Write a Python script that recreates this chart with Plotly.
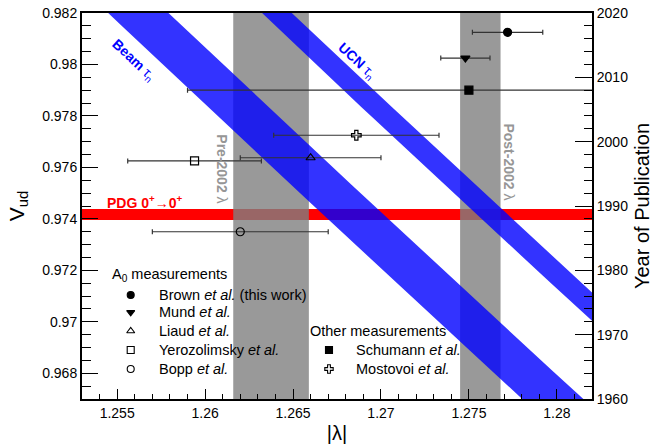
import numpy as np
import plotly.graph_objects as go

# ---------------- data ----------------
a0_names = ["Brown <i>et al.</i> (this work)", "Mund <i>et al.</i>", "Liaud <i>et al.</i>",
            "Yerozolimsky <i>et al.</i>", "Bopp <i>et al.</i>"]
a0_lambda = [1.2772, 1.2748, 1.2660, 1.2594, 1.2620]
a0_lambda_err = [0.0020, 0.0014, 0.0040, 0.0038, 0.0050]
a0_year = [2017, 2013, 1997.5, 1997, 1986]
a0_symbols = ["circle", "triangle-down", "triangle-up-open", "square-open", "circle-open"]

other_names = ["Schumann <i>et al.</i>", "Mostovoi <i>et al.</i>"]
other_lambda = [1.2750, 1.2686]
other_lambda_err = [0.0160, 0.0047]
other_year = [2008, 2001]
other_symbols = ["square", "cross-open"]

# neutron lifetime bands (s) -> Vud = sqrt(K / (tau (1 + 3 lambda^2)))
K_const = 4913.0
tau_beam, tau_beam_err = 888.5, 2.0
tau_ucn, tau_ucn_err = 879.4, 1.0

pdg_vud, pdg_vud_err = 0.97417, 0.00021
pre2002_lambda = [1.2616, 1.2659]
post2002_lambda = [1.2745, 1.2768]

x_ticks = [1.255, 1.26, 1.265, 1.27, 1.275, 1.28]
x_ticktext = ["1.255", "1.26", "1.265", "1.27", "1.275", "1.28"]
y_ticks = [0.968, 0.97, 0.972, 0.974, 0.976, 0.978, 0.98, 0.982]
y_ticktext = ["0.968", "0.97", "0.972", "0.974", "0.976", "0.978", "0.98", "0.982"]
year_ticks = [1960, 1970, 1980, 1990, 2000, 2010, 2020]

FONT = "Liberation Sans, Arial, Helvetica, sans-serif"

fig = go.Figure()

# ---------------- lifetime bands ----------------
lam_grid = np.linspace(1.245, 1.29, 80)


def vud(tau, lam):
    return np.sqrt(K_const / (tau * (1 + 3 * lam ** 2)))


for tau, err in [(tau_beam, tau_beam_err), (tau_ucn, tau_ucn_err)]:
    upper = vud(tau - err, lam_grid)
    lower = vud(tau + err, lam_grid)
    fig.add_trace(go.Scatter(
        x=np.concatenate([lam_grid, lam_grid[::-1]]),
        y=np.concatenate([upper, lower[::-1]]),
        fill="toself", fillcolor="rgba(0,0,255,0.8)", line=dict(width=0),
        mode="lines", hoverinfo="skip", showlegend=False, xaxis="x", yaxis="y"))

# ---------------- shapes: PDG and grey bands ----------------
shapes = [
    dict(type="rect", xref="x domain", yref="y", x0=0, x1=1,
         y0=pdg_vud - pdg_vud_err, y1=pdg_vud + pdg_vud_err,
         fillcolor="rgb(255,0,0)", line=dict(width=0), layer="below"),
    dict(type="rect", xref="x", yref="y domain", x0=pre2002_lambda[0], x1=pre2002_lambda[1],
         y0=0, y1=1, fillcolor="rgba(127,127,127,0.8)", line=dict(width=0), layer="below"),
    dict(type="rect", xref="x", yref="y domain", x0=post2002_lambda[0], x1=post2002_lambda[1],
         y0=0, y1=1, fillcolor="rgba(127,127,127,0.8)", line=dict(width=0), layer="below"),
]

# ---------------- data points ----------------
def add_points(lams, errs, years, symbols):
    for l, e, yr, s in zip(lams, errs, years, symbols):
        fig.add_trace(go.Scatter(
            x=[l], y=[yr], mode="markers", xaxis="x", yaxis="y2",
            marker=dict(symbol=s, size=8, color="black",
                        line=dict(color="black", width=1.2)),
            error_x=dict(type="data", array=[e], color="#333333", thickness=1.2, width=2.5),
            showlegend=False, hoverinfo="skip"))


add_points(a0_lambda, a0_lambda_err, a0_year, a0_symbols)
add_points(other_lambda, other_lambda_err, other_year, other_symbols)

# ---------------- legend (hidden unit axes) ----------------
leg_x1, leg_x2 = 0.0955, 0.4843
leg_rows = [0.2694, 0.2246, 0.1762, 0.1269, 0.0777]
fig.add_trace(go.Scatter(
    x=[leg_x1] * 5, y=leg_rows, mode="markers", xaxis="x3", yaxis="y3",
    marker=dict(symbol=a0_symbols, size=7, color="black", line=dict(color="black", width=1.1)),
    showlegend=False, hoverinfo="skip"))
fig.add_trace(go.Scatter(
    x=[leg_x2] * 2, y=leg_rows[3:], mode="markers", xaxis="x3", yaxis="y3",
    marker=dict(symbol=other_symbols, size=7, color="black", line=dict(color="black", width=1.1)),
    showlegend=False, hoverinfo="skip"))

annotations = []
lf = dict(family=FONT, size=14.5, color="black")
annotations.append(dict(xref="paper", yref="paper", x=0.0549, y=0.3212, xanchor="left",
                        yanchor="middle", text="A<sub>0</sub> measurements", showarrow=False, font=lf))
for name, yy in zip(a0_names, leg_rows):
    annotations.append(dict(xref="paper", yref="paper", x=0.1465, y=yy, xanchor="left",
                            yanchor="middle", text=name, showarrow=False, font=lf))
annotations.append(dict(xref="paper", yref="paper", x=0.4437, y=0.1762, xanchor="left",
                        yanchor="middle", text="Other measurements", showarrow=False, font=lf))
for name, yy in zip(other_names, leg_rows[3:]):
    annotations.append(dict(xref="paper", yref="paper", x=0.5333, y=yy, xanchor="left",
                            yanchor="middle", text=name, showarrow=False, font=lf))

# band labels
annotations += [
    dict(x=1.25590, y=0.98017, xref="x", yref="y", text="<b>Beam</b> τ<sub>n</sub>", textangle=43,
         showarrow=False, font=dict(family=FONT, size=14, color="rgb(0,0,255)")),
    dict(x=1.26860, y=0.98013, xref="x", yref="y", text="<b>UCN</b> τ<sub>n</sub>", textangle=43,
         showarrow=False, font=dict(family=FONT, size=14, color="rgb(0,0,255)")),
    dict(x=1.25433, y=0.97467, xref="x", yref="y", xanchor="left",
         text="<b>PDG 0<sup>+</sup>→0<sup>+</sup></b>",
         showarrow=False, font=dict(family=FONT, size=14, color="rgb(255,0,0)")),
    dict(x=1.26094, y=0.97594, xref="x", yref="y", text="<b>Pre-2002</b> λ", textangle=90,
         showarrow=False, font=dict(family=FONT, size=14, color="rgb(150,150,150)")),
    dict(x=1.27730, y=0.97622, xref="x", yref="y", text="<b>Post-2002</b> λ", textangle=90,
         showarrow=False, font=dict(family=FONT, size=14, color="rgb(150,150,150)")),
]

tickfont = dict(family=FONT, size=14, color="black")
fig.update_layout(
    width=656, height=444,
    margin=dict(l=82, r=64, t=13, b=45, pad=0, autoexpand=False),
    paper_bgcolor="white", plot_bgcolor="white",
    showlegend=False,
    shapes=shapes, annotations=annotations,
    xaxis=dict(range=[1.253, 1.282], tickmode="array", tickvals=x_ticks, ticktext=x_ticktext,
               ticks="inside", ticklen=10, tickwidth=1, tickcolor="black", automargin=False,
               minor=dict(tickmode="linear", tick0=1.255, dtick=0.001, ticks="inside",
                          ticklen=5, tickwidth=1, tickcolor="black"),
               showline=True, linewidth=2, linecolor="black", mirror=True,
               showgrid=False, zeroline=False, tickfont=tickfont,
               title=dict(text="|λ|", font=dict(family=FONT, size=20, color="black"), standoff=6)),
    yaxis=dict(range=[0.967, 0.982], tickmode="array", tickvals=y_ticks, ticktext=y_ticktext,
               ticks="inside", ticklen=16, tickwidth=1, tickcolor="black", automargin=False,
               minor=dict(tickmode="linear", tick0=0.968, dtick=0.0005, ticks="inside",
                          ticklen=9, tickwidth=1, tickcolor="black"),
               showline=True, linewidth=2, linecolor="black",
               showgrid=False, zeroline=False, tickfont=tickfont,
               title=dict(text="V<sub>ud</sub>", font=dict(family=FONT, size=21, color="black"),
                          standoff=12)),
    yaxis2=dict(range=[1960, 2020], overlaying="y", side="right", anchor="x",
                tickmode="array", tickvals=year_ticks, automargin=False,
                ticks="inside", ticklen=17, tickwidth=1, tickcolor="black",
                minor=dict(tickmode="linear", tick0=1960, dtick=2, ticks="inside",
                           ticklen=8, tickwidth=1, tickcolor="black"),
                showline=True, linewidth=2, linecolor="black",
                showgrid=False, zeroline=False, tickfont=tickfont,
                title=dict(text="Year of Publication", font=dict(family=FONT, size=20, color="black"),
                           standoff=8)),
    xaxis3=dict(range=[0, 1], overlaying="x", visible=False, anchor="y3", automargin=False),
    yaxis3=dict(range=[0, 1], overlaying="y", visible=False, anchor="x3", automargin=False),
)

fig.write_html("out.html", config={"displayModeBar": False, "staticPlot": True},
               post_script="document.body.style.margin='0px';document.body.style.overflow='hidden';")
